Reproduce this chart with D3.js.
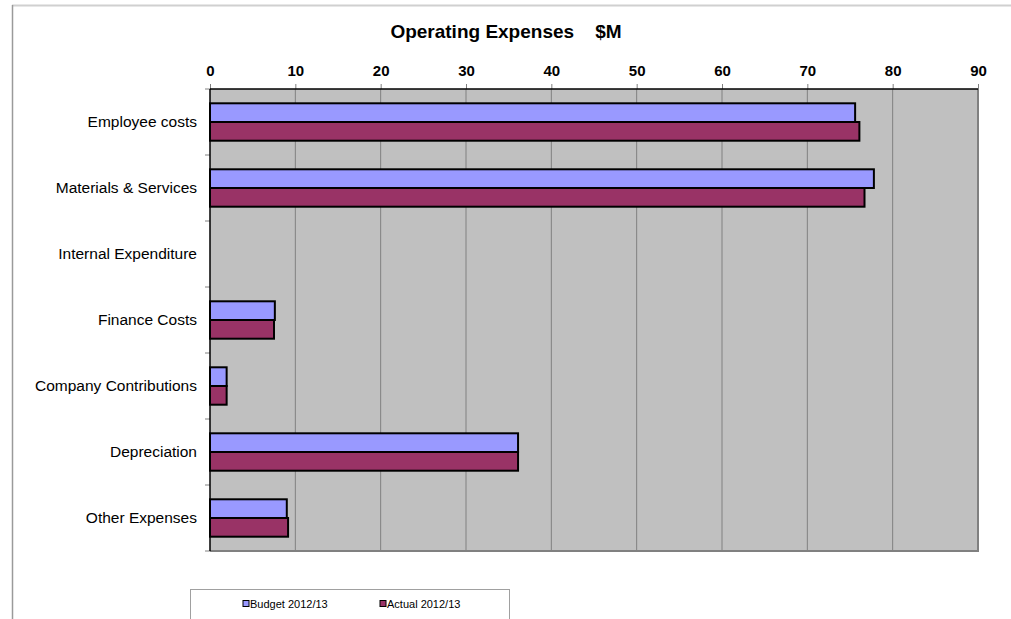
<!DOCTYPE html>
<html>
<head>
<meta charset="utf-8">
<script src="https://cdn.jsdelivr.net/npm/d3@7"></script>
<style>
  body { margin: 0; background: #fff; }
  svg { display: block; font-family: "Liberation Sans", Arial, sans-serif; }
</style>
</head>
<body>
<svg id="chart" width="1011" height="619"></svg>
<script>
var categories = ["Employee costs", "Materials & Services", "Internal Expenditure",
  "Finance Costs", "Company Contributions", "Depreciation", "Other Expenses"];
var budget = [75.6, 77.8, 0, 7.6, 1.95, 36.1, 9.0];
var actual = [76.1, 76.7, 0, 7.5, 1.95, 36.1, 9.15];
var seriesNames = ["Budget 2012/13", "Actual 2012/13"];
var seriesColors = ["#9999ff", "#993366"];
var xTicks = [0, 10, 20, 30, 40, 50, 60, 70, 80, 90];

var svg = d3.select("#chart");
var margin = {top: 89, left: 210},
    width = 768,
    height = 462;

// outer chart frame (cropped in the reference)
svg.append("line").attr("x1", 12).attr("x2", 1011).attr("y1", 5.5).attr("y2", 5.5)
  .attr("stroke", "#d0d0d0").attr("stroke-width", 2);
svg.append("line").attr("x1", 12.5).attr("x2", 12.5).attr("y1", 5).attr("y2", 619)
  .attr("stroke", "#9a9a9a").attr("stroke-width", 1.5);

svg.append("text")
  .attr("x", 506).attr("y", 38)
  .attr("text-anchor", "middle")
  .attr("font-size", 19).attr("font-weight", "bold")
  .attr("xml:space", "preserve")
  .text("Operating Expenses    $M");

var g = svg.append("g").attr("transform", "translate(" + margin.left + "," + margin.top + ")");

var x = d3.scaleLinear().domain([0, 90]).range([0, width]);
var y = d3.scaleBand().domain(categories).range([0, height]);
var inner = d3.scaleBand().domain(seriesNames).range([14.3, y.bandwidth() - 14.3]);

g.append("rect").attr("width", width).attr("height", height).attr("fill", "#c0c0c0");

// gridlines
g.selectAll("line.grid").data(xTicks.slice(1, -1)).enter().append("line")
  .attr("class", "grid")
  .attr("x1", function(d) { return x(d); }).attr("x2", function(d) { return x(d); })
  .attr("y1", 0).attr("y2", height)
  .attr("stroke", "#808080").attr("stroke-width", 1);

// top axis
var xAxis = d3.axisTop(x).tickValues(xTicks).tickSize(5).tickPadding(8).tickFormat(d3.format("d"));
var gx = g.append("g").call(xAxis);
gx.select(".domain").remove();
gx.selectAll(".tick line").attr("stroke", "#808080");
gx.selectAll(".tick text").attr("font-size", 15).attr("font-weight", "bold")
  .attr("fill", "#000").attr("font-family", "Liberation Sans, Arial, sans-serif");

// category labels and boundary ticks
var bounds = d3.range(categories.length + 1).map(function(i) { return i * y.step(); });
g.selectAll("line.ytick").data(bounds).enter().append("line")
  .attr("x1", -5).attr("x2", 0)
  .attr("y1", function(d) { return d; }).attr("y2", function(d) { return d; })
  .attr("stroke", "#808080");
g.selectAll("text.cat").data(categories).enter().append("text")
  .attr("x", -13)
  .attr("y", function(d) { return y(d) + y.bandwidth() / 2; })
  .attr("dy", "0.35em")
  .attr("text-anchor", "end")
  .attr("font-size", 15.5)
  .text(function(d) { return d; });

// bars
var rows = categories.map(function(c, i) { return {cat: c, values: [budget[i], actual[i]]}; });
var grp = g.selectAll("g.cat").data(rows).enter().append("g")
  .attr("transform", function(d) { return "translate(0," + y(d.cat) + ")"; });
grp.selectAll("rect").data(function(d) {
    return d.values.filter(function(v) { return v > 0; }).map(function(v, i) { return {s: i, v: v}; });
  }).enter().append("rect")
  .attr("x", 0)
  .attr("y", function(d) { return inner(seriesNames[d.s]); })
  .attr("width", function(d) { return x(d.v); })
  .attr("height", inner.bandwidth())
  .attr("fill", function(d) { return seriesColors[d.s]; })
  .attr("stroke", "#000").attr("stroke-width", 2);

// plot border
g.append("line").attr("x1", width).attr("x2", width).attr("y1", 0).attr("y2", height + 1)
  .attr("stroke", "#808080").attr("stroke-width", 2);
g.append("line").attr("x1", 0).attr("x2", width + 1).attr("y1", height).attr("y2", height)
  .attr("stroke", "#808080").attr("stroke-width", 2);
g.append("line").attr("x1", 0).attr("x2", width).attr("y1", 0).attr("y2", 0)
  .attr("stroke", "#000").attr("stroke-width", 1.5);
g.append("line").attr("x1", 0).attr("x2", 0).attr("y1", 0).attr("y2", height)
  .attr("stroke", "#000").attr("stroke-width", 1.5);

// legend
var lg = svg.append("g");
lg.append("rect").attr("x", 190.5).attr("y", 589.5).attr("width", 319).attr("height", 40)
  .attr("fill", "#fff").attr("stroke", "#a0a0a0");
var items = lg.selectAll("g.item").data(seriesNames).enter().append("g")
  .attr("transform", function(d, i) { return "translate(" + (243 + i * 137) + ",604)"; });
items.append("rect").attr("x", 0).attr("y", -3.5).attr("width", 6).attr("height", 6)
  .attr("fill", function(d, i) { return seriesColors[i]; })
  .attr("stroke", "#000").attr("stroke-width", 1);
items.append("text").attr("x", 7).attr("y", 0).attr("dy", "0.35em")
  .attr("font-size", 11).text(function(d) { return d; });
</script>
</body>
</html>
